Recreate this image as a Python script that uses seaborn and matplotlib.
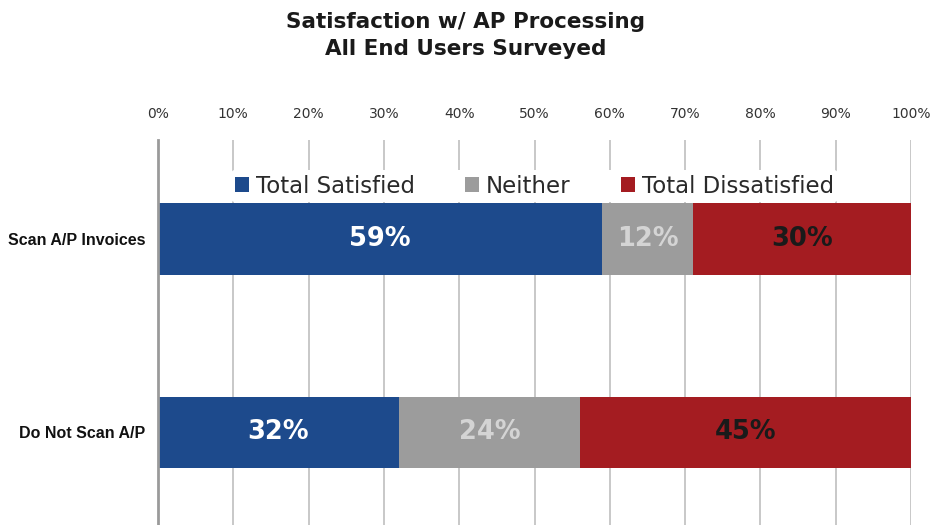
import matplotlib
matplotlib.use("Agg")
import matplotlib.pyplot as plt
from matplotlib.patches import Patch
import seaborn as sns
import pandas as pd
import numpy as np

categories = ["Scan A/P Invoices", "Do Not Scan A/P"]
satisfied = [59, 32]
neither = [12, 24]
dissatisfied = [30, 45]
series_names = ["Total Satisfied", "Neither", "Total Dissatisfied"]
tick_values = list(range(0, 101, 10))
tick_labels = [f"{v}%" for v in tick_values]

colors = ["#1d4a8c", "#9c9c9c", "#a41c21"]
label_colors = ["#ffffff", "#d4d4d4", "#1a1a1a"]

sns.set_theme(style="white")
plt.rcParams["font.family"] = ["DejaVu Sans"]

fig = plt.figure(figsize=(9.32, 5.25), dpi=100)
ax = fig.add_axes([0.1695, 0.0, 0.808, 0.7333])

df = pd.DataFrame({
    "category": categories,
    "s": satisfied,
    "n": neither,
    "d": dissatisfied,
})
df["c1"] = df["s"]
df["c2"] = df["s"] + df["n"]
df["c3"] = df["s"] + df["n"] + df["d"]

# Stacked bars: draw cumulative totals from longest to shortest
for col, color in zip(["c3", "c2", "c1"], colors[::-1]):
    sns.barplot(data=df, x=col, y="category", orient="h", color=color,
                width=0.37, saturation=1, ax=ax, zorder=2, linewidth=0)

# Segment value labels
for i in range(len(categories)):
    starts = [0, df["c1"][i], df["c2"][i]]
    vals = [df["s"][i], df["n"][i], df["d"][i]]
    for j, (st, v) in enumerate(zip(starts, vals)):
        end = min(st + v, 100)
        ax.text((st + end) / 2, i, f"{v}%", ha="center", va="center",
                fontsize=18.5, fontweight="bold", color=label_colors[j], zorder=4)

ax.set_xlim(0, 100)
ax.set_ylim(1.48, -0.513)
ax.xaxis.tick_top()
ax.set_xticks(tick_values)
ax.set_xticklabels(tick_labels, fontsize=10, color="#333333")
ax.tick_params(axis="x", length=0, pad=14)
ax.tick_params(axis="y", length=0, pad=9)
ax.set_yticks(range(len(categories)))
ax.set_yticklabels(categories, fontsize=11.5, fontweight="bold", color="#111111",
                   family="Liberation Sans")
ax.set_xlabel("")
ax.set_ylabel("")

ax.grid(axis="x", color="#c4c4c4", linewidth=1.3, zorder=0)
ax.set_axisbelow(True)
for side in ["top", "right", "bottom"]:
    ax.spines[side].set_visible(False)
ax.spines["left"].set_color("#9a9a9a")
ax.spines["left"].set_linewidth(2)

handles = [Patch(facecolor=c, edgecolor="none") for c in colors]
leg = ax.legend(handles, series_names, loc="center", bbox_to_anchor=(0.5, 0.88),
                ncol=3, frameon=True, fontsize=16.5, handlelength=0.6,
                handleheight=0.6, handletextpad=0.3, columnspacing=2.2,
                borderpad=0.2, facecolor="white", edgecolor="none", framealpha=1)
leg.set_zorder(3)
for t in leg.get_texts():
    t.set_color("#2a2a2a")

fig.text(0.5, 0.977, "Satisfaction w/ AP Processing\nAll End Users Surveyed",
         ha="center", va="top", fontsize=15.5, fontweight="heavy",
         color="#1a1a1a", linespacing=1.45)

fig.savefig("out.png", dpi=100)
